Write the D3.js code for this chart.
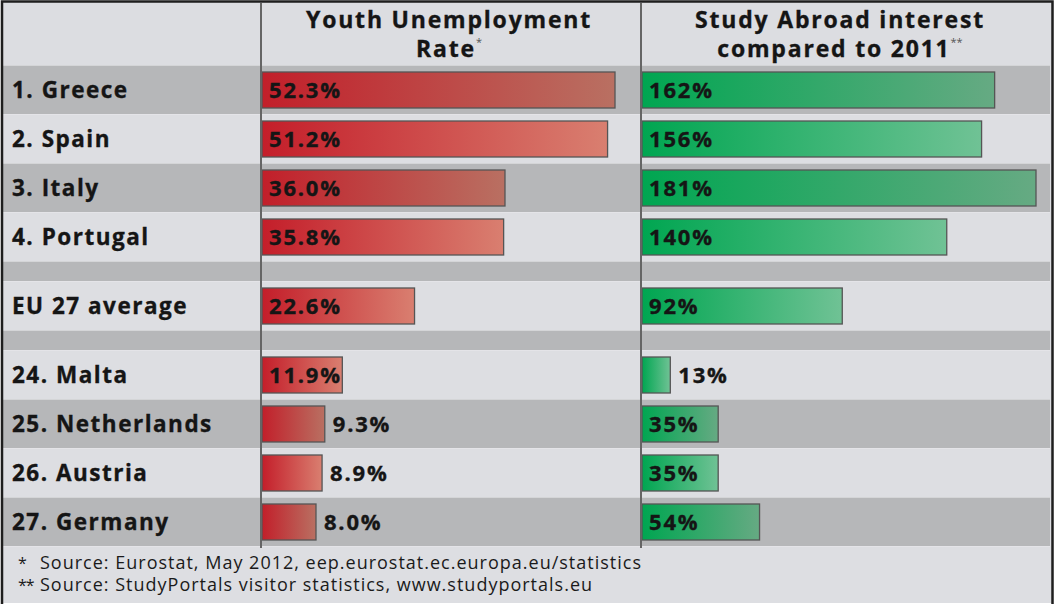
<!DOCTYPE html>
<html>
<head>
<meta charset="utf-8">
<script src="https://cdn.jsdelivr.net/npm/d3@7"></script>
<style>
  html, body { margin: 0; padding: 0; background: #ffffff; }
  svg { display: block; }
  .lbl { font-family: "Open Sans", sans-serif; font-weight: 700; fill: #151515;
         stroke: #151515; stroke-width: 0.35px; }
  .note { font-family: "Open Sans", sans-serif; font-weight: 400; fill: #1a1a1a; }
</style>
</head>
<body>
<svg id="chart" width="1054" height="604"></svg>
<script>
// Row labels, top four, EU average, bottom four
const countries = ["1. Greece", "2. Spain", "3. Italy", "4. Portugal", "EU 27 average",
                   "24. Malta", "25. Netherlands", "26. Austria", "27. Germany"];
// Youth unemployment rate, percent (Eurostat, May 2012)
const unemployment = [52.3, 51.2, 36.0, 35.8, 22.6, 11.9, 9.3, 8.9, 8.0];
// Study abroad interest compared to 2011, percent
const studyInterest = [162, 156, 181, 140, 92, 13, 35, 35, 54];
// Where the spacer bands sit (before these row labels)
const spacerBefore = ["EU 27 average", "24. Malta"];
// Column headings
const headUnemp = ["Youth Unemployment", "Rate"];
const headStudy = ["Study Abroad interest", "compared to 2011"];
const footnotes = [
  ["*", "Source: Eurostat, May 2012, eep.eurostat.ec.europa.eu/statistics"],
  ["**", "Source: StudyPortals visitor statistics, www.studyportals.eu"]
];

const W = 1054, H = 604;
const svg = d3.select("#chart");
const defs = svg.append("defs");

const C = {
  light: "#dddee2", dark: "#b6b7b9", head: "#dcdde1",
  border: "#1e1e1e", divider: "#656565", barStroke: "#555555"
};

function grad(id, c0, c1) {
  const g = defs.append("linearGradient").attr("id", id)
    .attr("x1", "0%").attr("x2", "100%").attr("y1", "0%").attr("y2", "0%");
  g.append("stop").attr("offset", "0%").attr("stop-color", c0);
  g.append("stop").attr("offset", "100%").attr("stop-color", c1);
}
grad("redLight", "#c41e2a", "#d97f70");
grad("redDark", "#c21f2a", "#b97062");
grad("greenLight", "#00a651", "#70c295");
grad("greenDark", "#00a651", "#66aa83");

// Row layout: data rows and thin spacer bands, alternating shading
const rowH = 49, gapH = 20, top0 = 65;
const rows = [];
let y = top0;
countries.forEach((c, i) => {
  if (spacerBefore.includes(c)) {
    rows.push({ spacer: true, y0: y, h: gapH });
    y += gapH;
  }
  rows.push({ spacer: false, y0: y, h: rowH, name: c, u: unemployment[i], s: studyInterest[i] });
  y += rowH;
});
rows.forEach((r, i) => { r.dark = (i % 2 === 0); });
const tableBottom = y;

const colLeft = 261, colMid = 641, colRight = 1050;

const xU = d3.scaleLinear().domain([0, 52.3]).range([colLeft + 1, 615]);
const xS = d3.scaleLinear().domain([0, 181]).range([colMid + 1, 1036]);

// Background panel
svg.append("rect").attr("x", 2).attr("y", 2).attr("width", W - 4).attr("height", H - 3)
  .attr("fill", C.light);

// Header band
svg.append("rect").attr("x", 3).attr("y", 3).attr("width", colRight - 3).attr("height", top0 - 3)
  .attr("fill", C.head);

// Row bands
svg.append("g").selectAll("rect").data(rows).join("rect")
  .attr("x", 3).attr("y", d => d.y0).attr("width", colRight - 3).attr("height", d => d.h)
  .attr("fill", d => d.dark ? C.dark : C.light);

// Faint separators between bands
svg.append("g").selectAll("line").data(rows.concat([{ y0: tableBottom }])).join("line")
  .attr("x1", 3).attr("x2", colRight).attr("y1", d => d.y0 + 0.5).attr("y2", d => d.y0 + 0.5)
  .attr("stroke", "#e9e9ec").attr("stroke-width", 1).attr("opacity", 0.6);

const dataRows = rows.filter(r => !r.spacer);

// Country labels
svg.append("g").selectAll("text").data(dataRows).join("text")
  .attr("class", "lbl")
  .attr("x", 12).attr("y", d => d.y0 + d.h / 2 + 8)
  .attr("font-size", 22.5).attr("letter-spacing", 1.5)
  .text(d => d.name);

const barPad = 7, barH = 36;
const fmtU = d => d3.format(".1f")(d) + "%";
const fmtS = d => d3.format("d")(d) + "%";

function drawBars(key, x, fmt, gLight, gDark) {
  const g = svg.append("g");
  g.selectAll("rect").data(dataRows).join("rect")
    .attr("x", x(0)).attr("y", d => d.y0 + barPad)
    .attr("width", d => x(d[key]) - x(0)).attr("height", barH)
    .attr("fill", d => `url(#${d.dark ? gDark : gLight})`)
    .attr("stroke", C.barStroke).attr("stroke-width", 1.3);
  g.selectAll("text").data(dataRows).join("text")
    .attr("class", "lbl")
    .attr("font-size", 22).attr("letter-spacing", 1.8)
    .attr("x", d => (x(d[key]) - x(0) >= 75) ? x(0) + 7 : x(d[key]) + 8)
    .attr("y", d => d.y0 + barPad + barH / 2 + 8)
    .text(d => fmt(d[key]));
}
drawBars("u", xU, fmtU, "redLight", "redDark");
drawBars("s", xS, fmtS, "greenLight", "greenDark");

// Column dividers
[colLeft, colMid].forEach(cx => {
  svg.append("line").attr("x1", cx).attr("x2", cx).attr("y1", 3).attr("y2", tableBottom + 2)
    .attr("stroke", C.divider).attr("stroke-width", 2);
});

// Column headings
function heading(lines, cx, mark) {
  svg.append("text").attr("class", "lbl").attr("font-size", 23)
    .attr("letter-spacing", 1.8).attr("text-anchor", "middle")
    .attr("x", cx).attr("y", 28).text(lines[0]);
  const t2 = svg.append("text").attr("class", "lbl").attr("font-size", 23)
    .attr("letter-spacing", 1.8).attr("text-anchor", "middle")
    .attr("x", cx).attr("y", 57);
  t2.append("tspan").text(lines[1]);
  t2.append("tspan").attr("font-size", 11).attr("font-weight", 400).attr("fill", "#555")
    .attr("stroke", "none").attr("letter-spacing", 0).attr("dy", -11).text(mark);
}
heading(headUnemp, 449, "*");
heading(headStudy, 840, "**");

// Footnotes
footnotes.forEach((f, i) => {
  const t = svg.append("text").attr("class", "note").attr("font-size", 18)
    .attr("x", 18).attr("y", 569 + i * 22);
  t.append("tspan").attr("font-size", 16).attr("letter-spacing", -1).text(f[0]);
  t.append("tspan").attr("x", 40).attr("letter-spacing", 1.0).text(f[1]);
});

// Outer frame
svg.append("rect").attr("x", 2).attr("y", 1.5).attr("width", W - 3.5).attr("height", H)
  .attr("fill", "none").attr("stroke", C.border).attr("stroke-width", 2.5);
</script>
</body>
</html>
